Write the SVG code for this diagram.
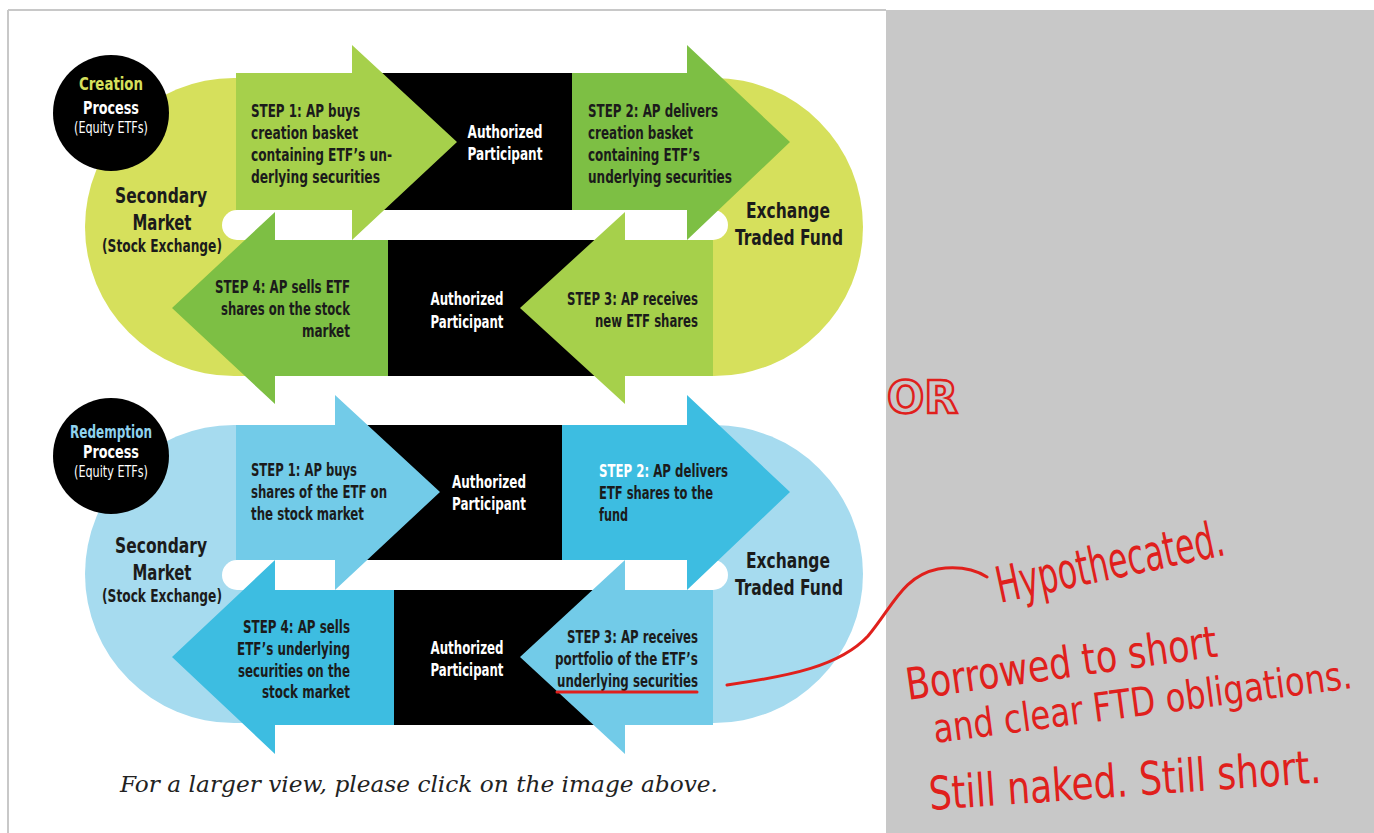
<svg xmlns="http://www.w3.org/2000/svg" width="1374" height="833" viewBox="0 0 1374 833">
<style>
.t{font-family:"Liberation Sans Narrow","DejaVu Sans Condensed","Liberation Sans",sans-serif;font-weight:bold;font-size:17.5px;fill:#1b1b1b}
.w{fill:#ffffff}
.big{font-size:22px}
.sm{font-size:15px}
.c{text-anchor:middle}
.e{text-anchor:end}
.hw{font-family:"DejaVu Sans","Liberation Sans",sans-serif;fill:#e0201c;font-size:44px}
.blk{fill:#000}
.gap{fill:#fff}
.pg{fill:#d6e05c}
.gl{fill:#a6d04b}
.gd{fill:#7dbf44}
.pb{fill:#a6dbef}
.bl{fill:#72cbe8}
.bd{fill:#3dbde1}
.red{fill:none;stroke:#e0201c;stroke-width:3;stroke-linecap:round}
</style>
<rect x="0" y="0" width="1374" height="833" fill="#fff"/>
<rect x="886" y="10" width="488" height="823" fill="#c8c8c8"/>
<line x1="8" y1="10" x2="886" y2="10" stroke="#c8c8c8" stroke-width="2"/>
<line x1="8" y1="10" x2="8" y2="833" stroke="#c8c8c8" stroke-width="2"/>

<!-- CREATION -->
<g id="creation-market-fund-bg">
<rect class="pg" x="85" y="78" width="778" height="298" rx="149"/>
<rect class="gap" x="222" y="210" width="506" height="30" rx="15"/>
</g>
<g id="creation-ap-top">
<rect class="blk" x="375" y="73" width="197" height="137"/>
<text class="t w c" x="505" y="138" textLength="75" lengthAdjust="spacingAndGlyphs">Authorized</text>
<text class="t w c" x="505" y="160" textLength="75" lengthAdjust="spacingAndGlyphs">Participant</text>
</g>
<g id="creation-ap-bottom">
<rect class="blk" x="388" y="240" width="237" height="136"/>
<text class="t w c" x="467" y="305" textLength="73" lengthAdjust="spacingAndGlyphs">Authorized</text>
<text class="t w c" x="467" y="328" textLength="73" lengthAdjust="spacingAndGlyphs">Participant</text>
</g>
<g id="creation-step1">
<path class="gl" d="M236,73 H352 V45 L457,142 L352,240 V210 H236 Z"/>
<text class="t" x="251" y="117" textLength="109" lengthAdjust="spacingAndGlyphs">STEP 1: AP buys</text>
<text class="t" x="251" y="139" textLength="107" lengthAdjust="spacingAndGlyphs">creation basket</text>
<text class="t" x="251" y="161" textLength="141" lengthAdjust="spacingAndGlyphs">containing ETF’s un-</text>
<text class="t" x="251" y="183" textLength="129" lengthAdjust="spacingAndGlyphs">derlying securities</text>
</g>
<g id="creation-step2">
<path class="gd" d="M572,73 H687 V45 L790,142 L687,240 V210 H572 Z"/>
<text class="t" x="588" y="117" textLength="130" lengthAdjust="spacingAndGlyphs">STEP 2: AP delivers</text>
<text class="t" x="588" y="139" textLength="105" lengthAdjust="spacingAndGlyphs">creation basket</text>
<text class="t" x="588" y="161" textLength="112" lengthAdjust="spacingAndGlyphs">containing ETF’s</text>
<text class="t" x="588" y="183" textLength="144" lengthAdjust="spacingAndGlyphs">underlying securities</text>
</g>
<g id="creation-step3">
<path class="gl" d="M713,240 H625 V212 L520,308 L625,404 V376 H713 Z"/>
<text class="t e" x="698" y="305" textLength="131" lengthAdjust="spacingAndGlyphs">STEP 3: AP receives</text>
<text class="t e" x="698" y="327" textLength="103" lengthAdjust="spacingAndGlyphs">new ETF shares</text>
</g>
<g id="creation-step4">
<path class="gd" d="M388,240 H275 V212 L172,308 L275,404 V376 H388 Z"/>
<text class="t e" x="350" y="293" textLength="135" lengthAdjust="spacingAndGlyphs">STEP 4: AP sells ETF</text>
<text class="t e" x="350" y="315" textLength="129" lengthAdjust="spacingAndGlyphs">shares on the stock</text>
<text class="t e" x="350" y="337" textLength="48" lengthAdjust="spacingAndGlyphs">market</text>
</g>
<g id="creation-secondary-market">
<text class="t big c" x="161" y="203" textLength="92" lengthAdjust="spacingAndGlyphs">Secondary</text>
<text class="t big c" x="162" y="230" textLength="59" lengthAdjust="spacingAndGlyphs">Market</text>
<text class="t c" x="162" y="252" textLength="120" lengthAdjust="spacingAndGlyphs">(Stock Exchange)</text>
</g>
<g id="creation-etf">
<text class="t big c" x="788" y="218" textLength="84" lengthAdjust="spacingAndGlyphs">Exchange</text>
<text class="t big c" x="789" y="245" textLength="108" lengthAdjust="spacingAndGlyphs">Traded Fund</text>
</g>
<g id="creation-title">
<circle cx="111" cy="113" r="58" fill="#000"/>
<text class="t c" x="111" y="90" textLength="64" lengthAdjust="spacingAndGlyphs" style="fill:#d6e05c;font-size:18px">Creation</text>
<text class="t c w" x="111" y="114" textLength="56" lengthAdjust="spacingAndGlyphs" style="font-size:18px">Process</text>
<text class="t c w sm" x="111" y="133" textLength="74" lengthAdjust="spacingAndGlyphs" style="font-weight:normal">(Equity ETFs)</text>
</g>

<!-- REDEMPTION -->
<g id="redemption-market-fund-bg">
<rect class="pb" x="85" y="425" width="778" height="298" rx="149"/>
<rect class="gap" x="222" y="560" width="506" height="30" rx="15"/>
</g>
<g id="redemption-ap-top">
<rect class="blk" x="360" y="425" width="202" height="135"/>
<text class="t w c" x="489" y="488" textLength="74" lengthAdjust="spacingAndGlyphs">Authorized</text>
<text class="t w c" x="489" y="510" textLength="74" lengthAdjust="spacingAndGlyphs">Participant</text>
</g>
<g id="redemption-ap-bottom">
<rect class="blk" x="394" y="590" width="231" height="135"/>
<text class="t w c" x="467" y="654" textLength="73" lengthAdjust="spacingAndGlyphs">Authorized</text>
<text class="t w c" x="467" y="676" textLength="73" lengthAdjust="spacingAndGlyphs">Participant</text>
</g>
<g id="redemption-step1">
<path class="bl" d="M236,425 H335 V395 L440,492 L335,590 V560 H236 Z"/>
<text class="t" x="251" y="476" textLength="106" lengthAdjust="spacingAndGlyphs">STEP 1: AP buys</text>
<text class="t" x="251" y="498" textLength="136" lengthAdjust="spacingAndGlyphs">shares of the ETF on</text>
<text class="t" x="251" y="520" textLength="113" lengthAdjust="spacingAndGlyphs">the stock market</text>
</g>
<g id="redemption-step2">
<path class="bd" d="M562,425 H687 V395 L790,492 L687,590 V560 H562 Z"/>
<text class="t" x="599" y="477" textLength="129" lengthAdjust="spacingAndGlyphs"><tspan class="w">STEP 2:</tspan> AP delivers</text>
<text class="t" x="599" y="499" textLength="114" lengthAdjust="spacingAndGlyphs">ETF shares to the</text>
<text class="t" x="599" y="521" textLength="29" lengthAdjust="spacingAndGlyphs">fund</text>
</g>
<g id="redemption-step3">
<path class="bl" d="M713,590 H625 V560 L520,657 L625,754 V725 H713 Z"/>
<text class="t e" x="698" y="643" textLength="131" lengthAdjust="spacingAndGlyphs">STEP 3: AP receives</text>
<text class="t e" x="698" y="665" textLength="143" lengthAdjust="spacingAndGlyphs">portfolio of the ETF’s</text>
<text class="t e" x="698" y="687" textLength="141" lengthAdjust="spacingAndGlyphs">underlying securities</text>
</g>
<g id="redemption-step4">
<path class="bd" d="M394,590 H275 V560 L172,657 L275,754 V725 H394 Z"/>
<text class="t e" x="350" y="633" textLength="107" lengthAdjust="spacingAndGlyphs">STEP 4: AP sells</text>
<text class="t e" x="350" y="655" textLength="113" lengthAdjust="spacingAndGlyphs">ETF’s underlying</text>
<text class="t e" x="350" y="677" textLength="112" lengthAdjust="spacingAndGlyphs">securities on the</text>
<text class="t e" x="350" y="698" textLength="88" lengthAdjust="spacingAndGlyphs">stock market</text>
</g>
<g id="redemption-secondary-market">
<text class="t big c" x="161" y="553" textLength="92" lengthAdjust="spacingAndGlyphs">Secondary</text>
<text class="t big c" x="162" y="580" textLength="59" lengthAdjust="spacingAndGlyphs">Market</text>
<text class="t c" x="162" y="602" textLength="120" lengthAdjust="spacingAndGlyphs">(Stock Exchange)</text>
</g>
<g id="redemption-etf">
<text class="t big c" x="788" y="568" textLength="84" lengthAdjust="spacingAndGlyphs">Exchange</text>
<text class="t big c" x="789" y="595" textLength="108" lengthAdjust="spacingAndGlyphs">Traded Fund</text>
</g>
<g id="redemption-title">
<circle cx="111" cy="456" r="58" fill="#000"/>
<text class="t c" x="111" y="438" textLength="82" lengthAdjust="spacingAndGlyphs" style="fill:#8fd2ee;font-size:18px">Redemption</text>
<text class="t c w" x="111" y="458" textLength="56" lengthAdjust="spacingAndGlyphs" style="font-size:18px">Process</text>
<text class="t c w sm" x="111" y="477" textLength="74" lengthAdjust="spacingAndGlyphs" style="font-weight:normal">(Equity ETFs)</text>
</g>

<g id="caption">
<text x="120" y="792" textLength="598" lengthAdjust="spacingAndGlyphs" style="font-family:'DejaVu Serif','Liberation Serif',serif;font-style:italic;font-size:22px;fill:#222">For a larger view, please click on the image above.</text>
</g>

<!-- annotations -->
<g id="connectors">
<path class="red" d="M557,692 H697"/>
<path class="red" d="M727,685 C790,676 840,666 868,636 C893,606 903,576 938,569 C958,566 974,569 987,577"/>
</g>
<g id="note-or">
<text x="887" y="413" textLength="71" lengthAdjust="spacingAndGlyphs" style="font-family:'DejaVu Sans',sans-serif;font-weight:bold;font-size:45px;fill:none;stroke:#e0201c;stroke-width:2.5">OR</text>
</g>
<g id="note-text">
<text class="hw" transform="translate(1000,603) rotate(-12)" x="0" y="0" textLength="232" lengthAdjust="spacingAndGlyphs" style="font-size:50px">Hypothecated.</text>
<text class="hw" transform="translate(908,700) rotate(-8)" x="0" y="0" textLength="314" lengthAdjust="spacingAndGlyphs">Borrowed to short</text>
<text class="hw" transform="translate(935,743) rotate(-7.5)" x="0" y="0" textLength="422" lengthAdjust="spacingAndGlyphs" style="font-size:40px">and clear FTD obligations.</text>
<text class="hw" transform="translate(930,810) rotate(-4)" x="0" y="0" textLength="393" lengthAdjust="spacingAndGlyphs" style="font-size:46px">Still naked. Still short.</text>
</g>
</svg>
